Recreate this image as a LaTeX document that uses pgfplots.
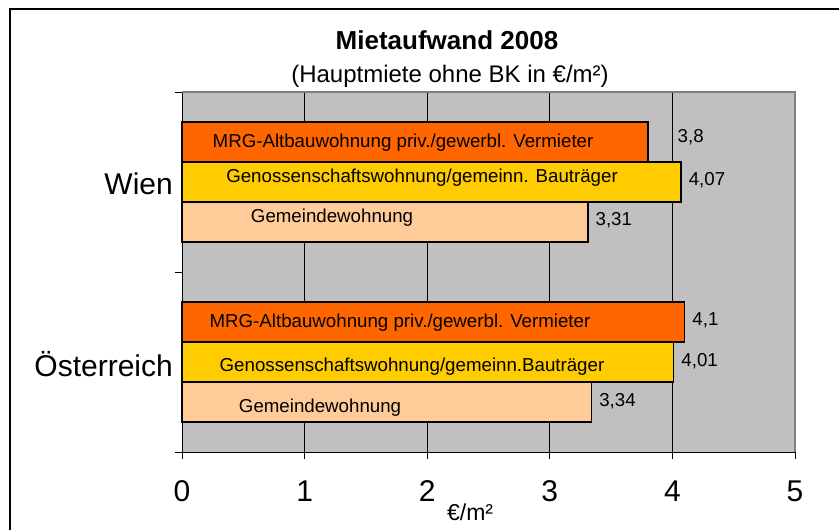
\documentclass[border=0pt]{standalone}
\usepackage{pgfplots}
\pgfplotsset{compat=1.18}
\usepackage{pgfplotstable}
\usepackage{fontspec}
\setmainfont{Liberation Sans}
\definecolor{plotgray}{HTML}{C0C0C0}
\definecolor{bordergray}{HTML}{808080}
\definecolor{cmrg}{HTML}{FF6600}
\definecolor{cgen}{HTML}{FFCC00}
\definecolor{cgem}{HTML}{FFCC99}

\pgfplotstableread{
y x lab dx dy
1 3.80 3,8 29 5
0 4.10 4,1 7 2
}\mrg
\pgfplotstableread{
y x lab dx dy
1 4.07 4,07 7 2
0 4.01 4,01 7 1
}\gen
\pgfplotstableread{
y x lab dx dy
1 3.31 3,31 7 2
0 3.34 3,34 7 1
}\gem

\pgfplotsset{valnodes/.style={
  nodes near coords,
  point meta=explicit symbolic,
  visualization depends on={\thisrow{dx} \as \dx},
  visualization depends on={\thisrow{dy} \as \dy},
  every node near coord/.append style={font=\fontsize{18.7}{22}\selectfont, inner sep=0pt, xshift=\dx, yshift=\dy, anchor=west},
}}

\begin{document}
\begin{tikzpicture}[x=1pt,y=1pt]
\useasboundingbox (0,0) rectangle (839,530);
\draw[line width=2pt] (10,-20) -- (10,521) -- (860,521);
\node[font=\bfseries\fontsize{26}{30}\selectfont, anchor=base] at (447,480) {Mietaufwand 2008};
\node[font=\fontsize{24}{28}\selectfont, anchor=base] at (450,447) {(Hauptmiete ohne BK in €/m²)};
\begin{axis}[
  at={(182pt,78pt)}, anchor=south west,
  scale only axis, width=613pt, height=360pt,
  xmin=0, xmax=5, ymin=-0.5, ymax=1.5,
  xbar, bar width=40pt,
  axis background/.style={fill=plotgray},
  axis x line*=bottom, axis y line*=left,
  axis line style={-, black, line width=0.8pt},
  xtick={0,1,2,3,4,5},
  ytick={-0.5,0.5,1.5}, yticklabels={},
  extra y ticks={0,1}, extra y tick labels={Österreich,Wien},
  extra y tick style={major tick length=0pt, yticklabel style={font=\fontsize{30}{36}\selectfont, inner sep=0pt, xshift=-9pt, yshift=-2pt}, grid=none},
  tick align=outside, major tick length=7pt,
  tick style={black, line width=0.8pt},
  xmajorgrids, grid style={black, line width=0.8pt},
  xticklabel style={font=\fontsize{30}{36}\selectfont, yshift=-18pt},
  /pgf/number format/assume math mode=true,
  xlabel={€/m²},
  every axis x label/.style={at={(axis description cs:0.47,0)}, anchor=center, yshift=-60pt, font=\fontsize{23}{26}\selectfont},
  clip=false,
]
\addplot[fill=cmrg, draw=black, line width=1.6pt, bar shift=40pt, valnodes] table[x=x,y=y,meta=lab]{\mrg};
\addplot[fill=cgen, draw=black, line width=1.6pt, bar shift=0pt, valnodes] table[x=x,y=y,meta=lab]{\gen};
\addplot[fill=cgem, draw=black, line width=1.6pt, bar shift=-40pt, valnodes] table[x=x,y=y,meta=lab]{\gem};
\draw[bordergray, line width=2pt] (rel axis cs:0,1) -- (rel axis cs:1,1) -- (rel axis cs:1,0);
\begin{scope}[every node/.style={font=\fontsize{18.7}{22}\selectfont, inner sep=0pt}]
\node at (axis cs:1.803,1.2167) {MRG-Altbauwohnung priv./gewerbl. Vermieter};
\node at (axis cs:1.958,1.0222) {Genossenschaftswohnung/gemeinn. Bauträger};
\node at (axis cs:1.224,0.8) {Gemeindewohnung};
\node at (axis cs:1.778,0.2167) {MRG-Altbauwohnung priv./gewerbl. Vermieter};
\node at (axis cs:1.876,-0.0278) {Genossenschaftswohnung/gemeinn.Bauträger};
\node at (axis cs:1.126,-0.2556) {Gemeindewohnung};
\end{scope}
\end{axis}
\end{tikzpicture}
\end{document}
